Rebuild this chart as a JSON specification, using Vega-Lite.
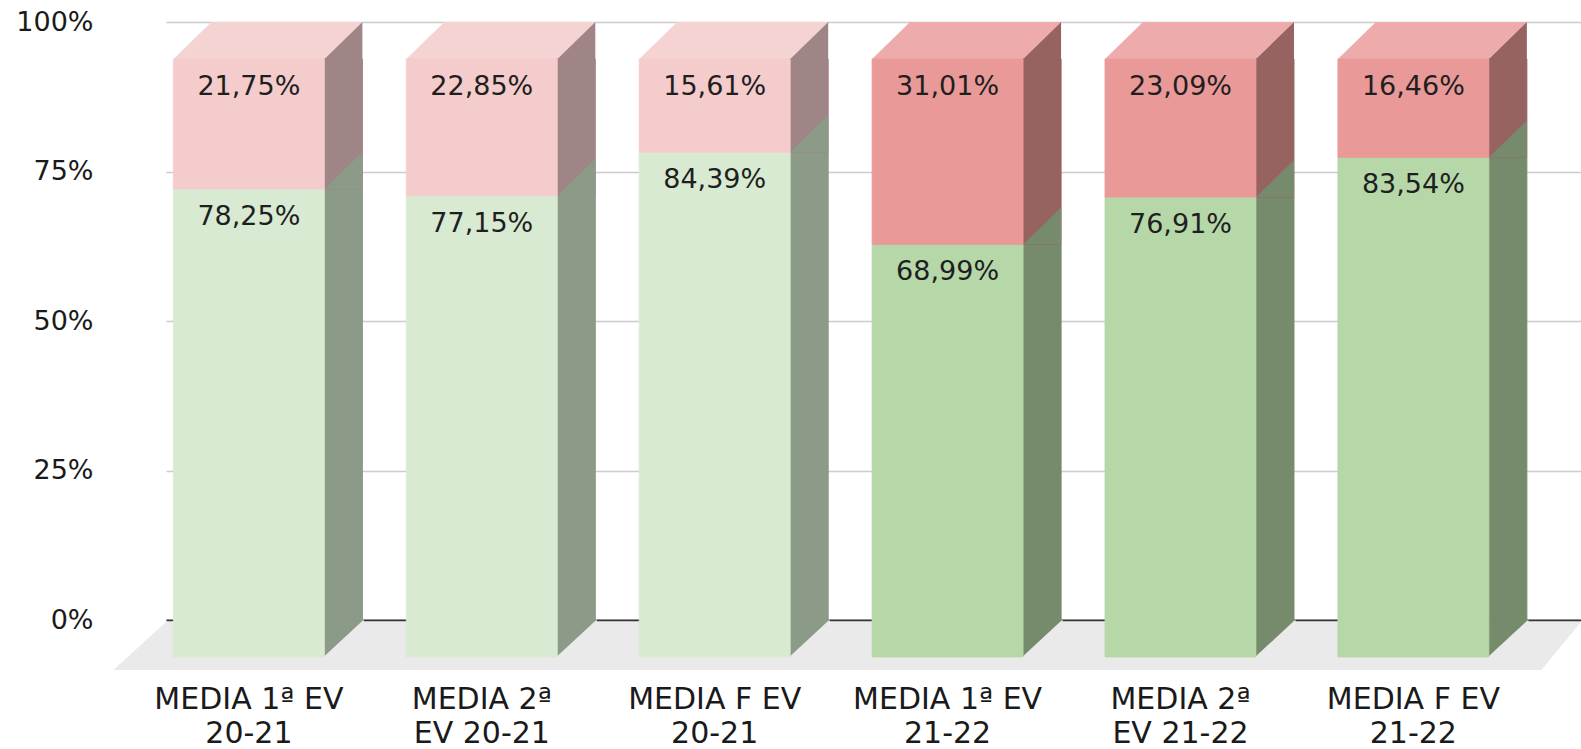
{
  "$schema": "https://vega.github.io/schema/vega-lite/v6.json",
  "autosize": {"type": "none"},
  "width": 1415,
  "height": 598,
  "padding": {"left": 166, "top": 22, "right": 0, "bottom": 129},
  "background": "white",
  "config": {
    "view": {"stroke": null},
    "locale": {"number": {"decimal": ",", "thousands": ".", "grouping": [3], "currency": ["", " €"]}}
  },
  "data": {
    "values": [
      {"cat": "MEDIA 1ª EV 20-21", "curso": "20-21", "serie": "Aprobados", "v": 0.7825},
      {"cat": "MEDIA 1ª EV 20-21", "curso": "20-21", "serie": "Suspensos", "v": 0.2175},
      {"cat": "MEDIA 2ª EV 20-21", "curso": "20-21", "serie": "Aprobados", "v": 0.7715},
      {"cat": "MEDIA 2ª EV 20-21", "curso": "20-21", "serie": "Suspensos", "v": 0.2285},
      {"cat": "MEDIA F EV 20-21", "curso": "20-21", "serie": "Aprobados", "v": 0.8439},
      {"cat": "MEDIA F EV 20-21", "curso": "20-21", "serie": "Suspensos", "v": 0.1561},
      {"cat": "MEDIA 1ª EV 21-22", "curso": "21-22", "serie": "Aprobados", "v": 0.6899},
      {"cat": "MEDIA 1ª EV 21-22", "curso": "21-22", "serie": "Suspensos", "v": 0.3101},
      {"cat": "MEDIA 2ª EV 21-22", "curso": "21-22", "serie": "Aprobados", "v": 0.7691},
      {"cat": "MEDIA 2ª EV 21-22", "curso": "21-22", "serie": "Suspensos", "v": 0.2309},
      {"cat": "MEDIA F EV 21-22", "curso": "21-22", "serie": "Aprobados", "v": 0.8354},
      {"cat": "MEDIA F EV 21-22", "curso": "21-22", "serie": "Suspensos", "v": 0.1646}
    ]
  },
  "transform": [
    {"stack": "v", "groupby": ["cat"], "sort": [{"field": "serie", "order": "ascending"}], "as": ["y0", "y1"]},
    {"calculate": "datum.serie + ' ' + datum.curso", "as": "key"}
  ],
  "layer": [
    {
      "transform": [{"filter": "datum.cat == 'MEDIA 1ª EV 20-21' && datum.serie == 'Aprobados'"}],
      "mark": {"type": "point", "shape": "M-82.5,1.5L1332.5,1.5L1292.5,50L-135.5,50Z", "size": 4, "filled": true, "opacity": 1, "strokeWidth": 0, "color": "#eaeaea"},
      "encoding": {
        "x": {"field": "cat", "type": "nominal", "sort": ["MEDIA 1ª EV 20-21", "MEDIA 2ª EV 20-21", "MEDIA F EV 20-21", "MEDIA 1ª EV 21-22", "MEDIA 2ª EV 21-22", "MEDIA F EV 21-22"],
          "scale": {"type": "band", "paddingInner": 0.3517, "paddingOuter": 0.2137, "align": 0.0744},
          "axis": {"title": null, "labelAngle": 0, "labelFont": "DejaVu Sans", "labelFontSize": 30, "labelLineHeight": 34, "labelColor": "#1a1a1a", "labelPadding": 64, "labelLimit": 400, "ticks": false, "domain": true, "domainColor": "#333333", "domainWidth": 2, "grid": false,
            "labelExpr": "indexof(datum.value, '2ª') >= 0 ? ['MEDIA 2ª', slice(datum.value, 9)] : [slice(datum.value, 0, -6), slice(datum.value, -5)]"}},
        "y": {"datum": 0, "type": "quantitative", "scale": {"domain": [0, 1]},
          "axis": {"title": null, "values": [0, 0.25, 0.5, 0.75, 1], "format": ".0%", "labelFont": "DejaVu Sans", "labelFontSize": 27, "labelColor": "#1a1a1a", "labelPadding": 73, "ticks": false, "domain": false, "grid": true, "gridColor": "#cccccc", "gridWidth": 1.5}}
      }
    },
    {
      "transform": [{"filter": "datum.serie == 'Suspensos'"}],
      "mark": {"type": "point", "shape": "M-75.5,37L75.5,37L113.5,0L-37.5,0Z", "size": 4, "filled": true, "opacity": 1, "strokeWidth": 0},
      "encoding": {
        "x": {"field": "cat", "type": "nominal", "sort": ["MEDIA 1ª EV 20-21", "MEDIA 2ª EV 20-21", "MEDIA F EV 20-21", "MEDIA 1ª EV 21-22", "MEDIA 2ª EV 21-22", "MEDIA F EV 21-22"],
          "scale": {"type": "band", "paddingInner": 0.3517, "paddingOuter": 0.2137, "align": 0.0744},
          "axis": {"title": null, "labelAngle": 0, "labelFont": "DejaVu Sans", "labelFontSize": 30, "labelLineHeight": 34, "labelColor": "#1a1a1a", "labelPadding": 64, "labelLimit": 400, "ticks": false, "domain": true, "domainColor": "#333333", "domainWidth": 2, "grid": false,
            "labelExpr": "indexof(datum.value, '2ª') >= 0 ? ['MEDIA 2ª', slice(datum.value, 9)] : [slice(datum.value, 0, -6), slice(datum.value, -5)]"}},
        "y": {"field": "y1", "type": "quantitative", "scale": {"domain": [0, 1]},
          "axis": {"title": null, "values": [0, 0.25, 0.5, 0.75, 1], "format": ".0%", "labelFont": "DejaVu Sans", "labelFontSize": 27, "labelColor": "#1a1a1a", "labelPadding": 73, "ticks": false, "domain": false, "grid": true, "gridColor": "#cccccc", "gridWidth": 1.5}},
        "color": {"field": "key", "type": "nominal", "legend": null,
          "scale": {"domain": ["Suspensos 20-21", "Suspensos 21-22"], "range": ["#f5d3d3", "#eeabab"]}}
      }
    },
    {
      "mark": {"type": "bar", "width": 38, "xOffset": 94.5, "yOffset": 37, "y2Offset": 37, "strokeWidth": 1},
      "encoding": {
        "x": {"field": "cat", "type": "nominal", "sort": ["MEDIA 1ª EV 20-21", "MEDIA 2ª EV 20-21", "MEDIA F EV 20-21", "MEDIA 1ª EV 21-22", "MEDIA 2ª EV 21-22", "MEDIA F EV 21-22"],
          "scale": {"type": "band", "paddingInner": 0.3517, "paddingOuter": 0.2137, "align": 0.0744},
          "axis": {"title": null, "labelAngle": 0, "labelFont": "DejaVu Sans", "labelFontSize": 30, "labelLineHeight": 34, "labelColor": "#1a1a1a", "labelPadding": 64, "labelLimit": 400, "ticks": false, "domain": true, "domainColor": "#333333", "domainWidth": 2, "grid": false,
            "labelExpr": "indexof(datum.value, '2ª') >= 0 ? ['MEDIA 2ª', slice(datum.value, 9)] : [slice(datum.value, 0, -6), slice(datum.value, -5)]"}},
        "y": {"field": "y0", "type": "quantitative", "scale": {"domain": [0, 1]},
          "axis": {"title": null, "values": [0, 0.25, 0.5, 0.75, 1], "format": ".0%", "labelFont": "DejaVu Sans", "labelFontSize": 27, "labelColor": "#1a1a1a", "labelPadding": 73, "ticks": false, "domain": false, "grid": true, "gridColor": "#cccccc", "gridWidth": 1.5}},
        "y2": {"field": "y1"},
        "fill": {"field": "key", "type": "nominal", "legend": null,
          "scale": {"domain": ["Aprobados 20-21", "Suspensos 20-21", "Aprobados 21-22", "Suspensos 21-22"], "range": ["#8c9a88", "#a08586", "#768b6c", "#966361"]}},
        "stroke": {"field": "key", "type": "nominal", "legend": null,
          "scale": {"domain": ["Aprobados 20-21", "Suspensos 20-21", "Aprobados 21-22", "Suspensos 21-22"], "range": ["#8c9a88", "#a08586", "#768b6c", "#966361"]}}
      }
    },
    {
      "mark": {"type": "point", "shape": "M75.5,37L113.5,0L113.5,37Z", "size": 4, "filled": true, "opacity": 1, "strokeWidth": 0},
      "encoding": {
        "x": {"field": "cat", "type": "nominal", "sort": ["MEDIA 1ª EV 20-21", "MEDIA 2ª EV 20-21", "MEDIA F EV 20-21", "MEDIA 1ª EV 21-22", "MEDIA 2ª EV 21-22", "MEDIA F EV 21-22"],
          "scale": {"type": "band", "paddingInner": 0.3517, "paddingOuter": 0.2137, "align": 0.0744},
          "axis": {"title": null, "labelAngle": 0, "labelFont": "DejaVu Sans", "labelFontSize": 30, "labelLineHeight": 34, "labelColor": "#1a1a1a", "labelPadding": 64, "labelLimit": 400, "ticks": false, "domain": true, "domainColor": "#333333", "domainWidth": 2, "grid": false,
            "labelExpr": "indexof(datum.value, '2ª') >= 0 ? ['MEDIA 2ª', slice(datum.value, 9)] : [slice(datum.value, 0, -6), slice(datum.value, -5)]"}},
        "y": {"field": "y1", "type": "quantitative", "scale": {"domain": [0, 1]},
          "axis": {"title": null, "values": [0, 0.25, 0.5, 0.75, 1], "format": ".0%", "labelFont": "DejaVu Sans", "labelFontSize": 27, "labelColor": "#1a1a1a", "labelPadding": 73, "ticks": false, "domain": false, "grid": true, "gridColor": "#cccccc", "gridWidth": 1.5}},
        "color": {"field": "key", "type": "nominal", "legend": null,
          "scale": {"domain": ["Aprobados 20-21", "Suspensos 20-21", "Aprobados 21-22", "Suspensos 21-22"], "range": ["#8c9a88", "#a08586", "#768b6c", "#966361"]}}
      }
    },
    {
      "transform": [{"filter": "datum.serie == 'Aprobados'"}],
      "mark": {"type": "point", "shape": "M74,37.6L115,-0.4L115,40L74,40Z", "size": 4, "filled": true, "opacity": 1, "strokeWidth": 0, "color": "#eaeaea"},
      "encoding": {
        "x": {"field": "cat", "type": "nominal", "sort": ["MEDIA 1ª EV 20-21", "MEDIA 2ª EV 20-21", "MEDIA F EV 20-21", "MEDIA 1ª EV 21-22", "MEDIA 2ª EV 21-22", "MEDIA F EV 21-22"],
          "scale": {"type": "band", "paddingInner": 0.3517, "paddingOuter": 0.2137, "align": 0.0744},
          "axis": {"title": null, "labelAngle": 0, "labelFont": "DejaVu Sans", "labelFontSize": 30, "labelLineHeight": 34, "labelColor": "#1a1a1a", "labelPadding": 64, "labelLimit": 400, "ticks": false, "domain": true, "domainColor": "#333333", "domainWidth": 2, "grid": false,
            "labelExpr": "indexof(datum.value, '2ª') >= 0 ? ['MEDIA 2ª', slice(datum.value, 9)] : [slice(datum.value, 0, -6), slice(datum.value, -5)]"}},
        "y": {"datum": 0, "type": "quantitative", "scale": {"domain": [0, 1]},
          "axis": {"title": null, "values": [0, 0.25, 0.5, 0.75, 1], "format": ".0%", "labelFont": "DejaVu Sans", "labelFontSize": 27, "labelColor": "#1a1a1a", "labelPadding": 73, "ticks": false, "domain": false, "grid": true, "gridColor": "#cccccc", "gridWidth": 1.5}}
      }
    },
    {
      "mark": {"type": "bar", "yOffset": 37, "y2Offset": 37, "strokeWidth": 0.8},
      "encoding": {
        "x": {"field": "cat", "type": "nominal", "sort": ["MEDIA 1ª EV 20-21", "MEDIA 2ª EV 20-21", "MEDIA F EV 20-21", "MEDIA 1ª EV 21-22", "MEDIA 2ª EV 21-22", "MEDIA F EV 21-22"],
          "scale": {"type": "band", "paddingInner": 0.3517, "paddingOuter": 0.2137, "align": 0.0744},
          "axis": {"title": null, "labelAngle": 0, "labelFont": "DejaVu Sans", "labelFontSize": 30, "labelLineHeight": 34, "labelColor": "#1a1a1a", "labelPadding": 64, "labelLimit": 400, "ticks": false, "domain": true, "domainColor": "#333333", "domainWidth": 2, "grid": false,
            "labelExpr": "indexof(datum.value, '2ª') >= 0 ? ['MEDIA 2ª', slice(datum.value, 9)] : [slice(datum.value, 0, -6), slice(datum.value, -5)]"}},
        "y": {"field": "y0", "type": "quantitative", "scale": {"domain": [0, 1]},
          "axis": {"title": null, "values": [0, 0.25, 0.5, 0.75, 1], "format": ".0%", "labelFont": "DejaVu Sans", "labelFontSize": 27, "labelColor": "#1a1a1a", "labelPadding": 73, "ticks": false, "domain": false, "grid": true, "gridColor": "#cccccc", "gridWidth": 1.5}},
        "y2": {"field": "y1"},
        "fill": {"field": "key", "type": "nominal", "legend": null,
          "scale": {"domain": ["Aprobados 20-21", "Suspensos 20-21", "Aprobados 21-22", "Suspensos 21-22"], "range": ["#d9ead3", "#f4cccc", "#b6d7a8", "#ea9999"]}},
        "stroke": {"field": "key", "type": "nominal", "legend": null,
          "scale": {"domain": ["Aprobados 20-21", "Suspensos 20-21", "Aprobados 21-22", "Suspensos 21-22"], "range": ["#d9ead3", "#f4cccc", "#b6d7a8", "#ea9999"]}}
      }
    },
    {
      "mark": {"type": "text", "font": "DejaVu Sans", "fontSize": 27, "color": "#1f1f1f", "baseline": "middle", "align": "center", "yOffset": 65},
      "encoding": {
        "x": {"field": "cat", "type": "nominal", "sort": ["MEDIA 1ª EV 20-21", "MEDIA 2ª EV 20-21", "MEDIA F EV 20-21", "MEDIA 1ª EV 21-22", "MEDIA 2ª EV 21-22", "MEDIA F EV 21-22"],
          "scale": {"type": "band", "paddingInner": 0.3517, "paddingOuter": 0.2137, "align": 0.0744},
          "axis": {"title": null, "labelAngle": 0, "labelFont": "DejaVu Sans", "labelFontSize": 30, "labelLineHeight": 34, "labelColor": "#1a1a1a", "labelPadding": 64, "labelLimit": 400, "ticks": false, "domain": true, "domainColor": "#333333", "domainWidth": 2, "grid": false,
            "labelExpr": "indexof(datum.value, '2ª') >= 0 ? ['MEDIA 2ª', slice(datum.value, 9)] : [slice(datum.value, 0, -6), slice(datum.value, -5)]"}},
        "y": {"field": "y1", "type": "quantitative", "scale": {"domain": [0, 1]},
          "axis": {"title": null, "values": [0, 0.25, 0.5, 0.75, 1], "format": ".0%", "labelFont": "DejaVu Sans", "labelFontSize": 27, "labelColor": "#1a1a1a", "labelPadding": 73, "ticks": false, "domain": false, "grid": true, "gridColor": "#cccccc", "gridWidth": 1.5}},
        "text": {"field": "v", "type": "quantitative", "format": ".2%"}
      }
    }
  ],
  "resolve": {"scale": {"color": "independent", "fill": "independent", "stroke": "independent"}}
}
